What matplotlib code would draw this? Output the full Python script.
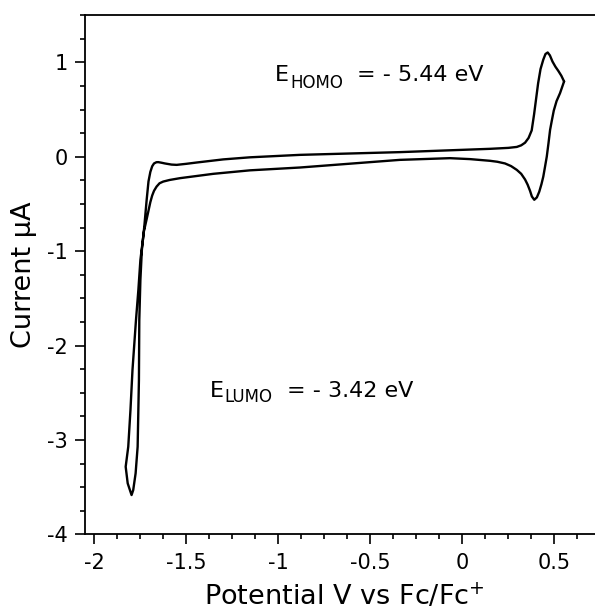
import matplotlib
matplotlib.use("Agg")
import matplotlib.pyplot as plt
from matplotlib.ticker import MultipleLocator, FixedLocator, FixedFormatter

# Cyclic voltammogram: cathodic sweep from the positive vertex, then anodic return
potential_v = [
    0.553, 0.531, 0.512, 0.497, 0.486, 0.477, 0.468, 0.459, 0.449, 0.440,
    0.430, 0.418, 0.405, 0.391, 0.378, 0.368, 0.355, 0.341, 0.320, 0.296,
    0.265, 0.232, 0.190, 0.151, 0.042, -0.067, -0.339, -0.882, -1.154, -1.353,
    -1.534, -1.590, -1.625, -1.645, -1.661, -1.675, -1.685, -1.695, -1.705, -1.715,
    -1.730, -1.749, -1.760, -1.773, -1.792, -1.803, -1.815, -1.829,
    -1.818, -1.797, -1.788, -1.775, -1.764, -1.757, -1.755, -1.749, -1.741, -1.727,
    -1.715, -1.705, -1.695, -1.685, -1.675, -1.662, -1.652, -1.635, -1.616, -1.580,
    -1.552, -1.500, -1.443, -1.299, -1.154, -0.882, -0.339, 0.151, 0.250, 0.296,
    0.320, 0.341, 0.360, 0.377, 0.390, 0.400, 0.412, 0.425, 0.440, 0.452,
    0.464, 0.476, 0.490, 0.506, 0.522, 0.538, 0.553,
]
current_ua = [
    0.799, 0.675, 0.590, 0.490, 0.380, 0.286, 0.140, 0.003, -0.110, -0.210,
    -0.290, -0.370, -0.430, -0.455, -0.420, -0.360, -0.295, -0.240, -0.180, -0.138,
    -0.098, -0.070, -0.052, -0.042, -0.024, -0.014, -0.032, -0.113, -0.143, -0.180,
    -0.226, -0.245, -0.262, -0.280, -0.315, -0.360, -0.410, -0.480, -0.570, -0.660,
    -0.790, -1.092, -1.410, -1.729, -2.259, -2.683, -3.072, -3.284,
    -3.460, -3.584, -3.531, -3.354, -3.072, -2.365, -1.729, -1.304, -0.986, -0.721,
    -0.456, -0.260, -0.160, -0.100, -0.070, -0.057, -0.056, -0.062, -0.070, -0.082,
    -0.085, -0.074, -0.060, -0.027, -0.005, 0.021, 0.050, 0.085, 0.095, 0.105,
    0.122, 0.150, 0.200, 0.280, 0.450, 0.600, 0.780, 0.930, 1.030, 1.090,
    1.106, 1.075, 1.010, 0.955, 0.910, 0.860, 0.799,
]

x_ticks = [-2, -1.5, -1, -0.5, 0, 0.5]
x_tick_labels = ["-2", "-1.5", "-1", "-0.5", "0", "0.5"]
y_ticks = [-4, -3, -2, -1, 0, 1]
y_tick_labels = ["-4", "-3", "-2", "-1", "0", "1"]

x_title = "Potential V vs Fc/Fc$^{+}$"
y_title = "Current \u03bcA"

homo_text = ("E", "HOMO", "= - 5.44 eV")
lumo_text = ("E", "LUMO", "= - 3.42 eV")

plt.rcParams["font.family"] = ["DejaVu Sans"]
plt.rcParams["axes.unicode_minus"] = False

fig = plt.figure(figsize=(5.95, 6.10), dpi=100)
ax = fig.add_axes([85 / 595, 75.7 / 610, 510 / 595, 519 / 610])

ax.plot(potential_v, current_ua, color="black", lw=1.7,
        solid_joinstyle="round", solid_capstyle="round")

ax.set_xlim(-2.05, 0.721)
ax.set_ylim(-4, 1.5)

ax.xaxis.set_major_locator(FixedLocator(x_ticks))
ax.xaxis.set_major_formatter(FixedFormatter(x_tick_labels))
ax.xaxis.set_minor_locator(MultipleLocator(0.125))
ax.yaxis.set_major_locator(FixedLocator(y_ticks))
ax.yaxis.set_major_formatter(FixedFormatter(y_tick_labels))
ax.yaxis.set_minor_locator(MultipleLocator(0.25))

ax.tick_params(which="both", direction="out", top=False, right=False, width=1.2, colors="black")
ax.tick_params(which="major", length=7.2, labelsize=15)
ax.tick_params(which="minor", length=3.6)
ax.tick_params(axis="x", which="major", pad=6)
ax.tick_params(axis="y", which="major", pad=5)

ax.spines["right"].set_visible(False)
for side in ("left", "bottom", "top"):
    ax.spines[side].set_linewidth(1.3)

ax.set_xlabel(x_title, fontsize=19.5)
ax.set_ylabel(y_title, fontsize=19.5)
ax.xaxis.set_label_coords(0.508, -0.092)
ax.yaxis.set_label_coords(-0.094, 0.5)

renderer = fig.canvas.get_renderer()


def level_label(x, y, parts, sub_drop):
    main, sub, rest = parts
    t_main = ax.text(x, y, main, fontsize=16, va="baseline", ha="left")
    w_main = t_main.get_window_extent(renderer).width
    t_sub = ax.annotate(sub, xy=(x, y), xycoords="data",
                        xytext=(w_main + 1, -sub_drop), textcoords="offset pixels",
                        fontsize=12, va="baseline", ha="left")
    w_sub = t_sub.get_window_extent(renderer).width
    ax.annotate(rest, xy=(x, y), xycoords="data",
                xytext=(w_main + 1 + w_sub + 14, 0), textcoords="offset pixels",
                fontsize=16, va="baseline", ha="left")


level_label(-1.018, 0.80, homo_text, 7)
level_label(-1.372, -2.542, lumo_text, 5)

fig.savefig("out.png", dpi=100)
